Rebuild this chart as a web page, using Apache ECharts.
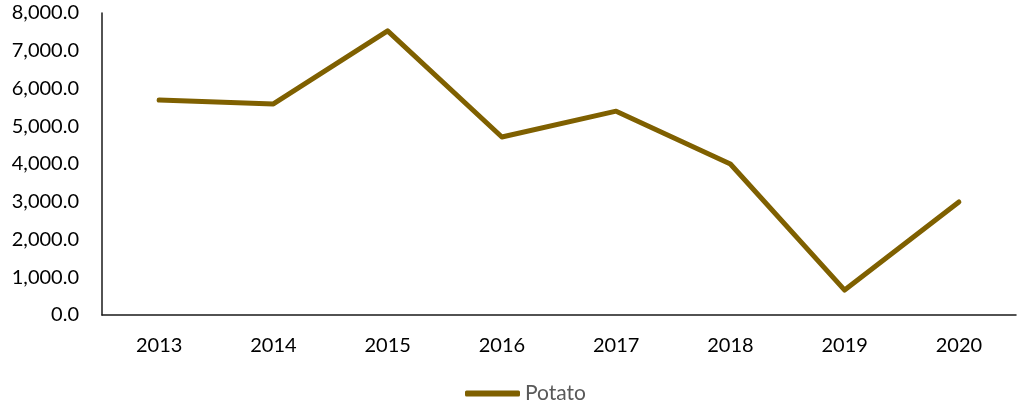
<!DOCTYPE html>
<html>
<head>
<meta charset="utf-8">
<script src="https://cdn.jsdelivr.net/npm/echarts@6/dist/echarts.min.js"></script>
<style>
  html, body { margin: 0; padding: 0; background: #fff; }
  #chart { width: 1018px; height: 410px; }
</style>
</head>
<body>
<div id="chart"></div>
<script>
// data
const years = ['2013', '2014', '2015', '2016', '2017', '2018', '2019', '2020'];
const potato = [5695, 5590, 7525, 4715, 5400, 4000, 660, 2995];

const chart = echarts.init(document.getElementById('chart'));
const font = 'Lato, "Open Sans", sans-serif';

chart.setOption({
  animation: false,
  grid: { left: 102, right: 2, top: 13, bottom: 95, containLabel: false },
  legend: {
    bottom: 1,
    left: 460,
    itemWidth: 55,
    itemHeight: 6,
    itemGap: 10,
    icon: 'roundRect',
    textStyle: { fontFamily: font, fontSize: 21, color: '#595959' },
    data: ['Potato']
  },
  xAxis: {
    type: 'category',
    data: years,
    boundaryGap: true,
    axisLine: { lineStyle: { color: '#1a1a1a', width: 1.5 } },
    axisTick: { show: false },
    axisLabel: { fontFamily: font, fontSize: 20, color: '#000', margin: 21 }
  },
  yAxis: {
    type: 'value',
    min: 0,
    max: 8000,
    interval: 1000,
    splitLine: { show: false },
    axisLine: { show: true, lineStyle: { color: '#1a1a1a', width: 1.5 } },
    axisTick: { show: false },
    axisLabel: {
      fontFamily: font, fontSize: 20, color: '#000', margin: 23,
      formatter: v => v.toLocaleString('en-US', { minimumFractionDigits: 1, maximumFractionDigits: 1 })
    }
  },
  series: [{
    name: 'Potato',
    type: 'line',
    data: potato,
    symbol: 'none',
    lineStyle: { color: '#7f6000', width: 5, cap: 'round', join: 'round' },
    itemStyle: { color: '#7f6000' }
  }]
});
</script>
</body>
</html>
